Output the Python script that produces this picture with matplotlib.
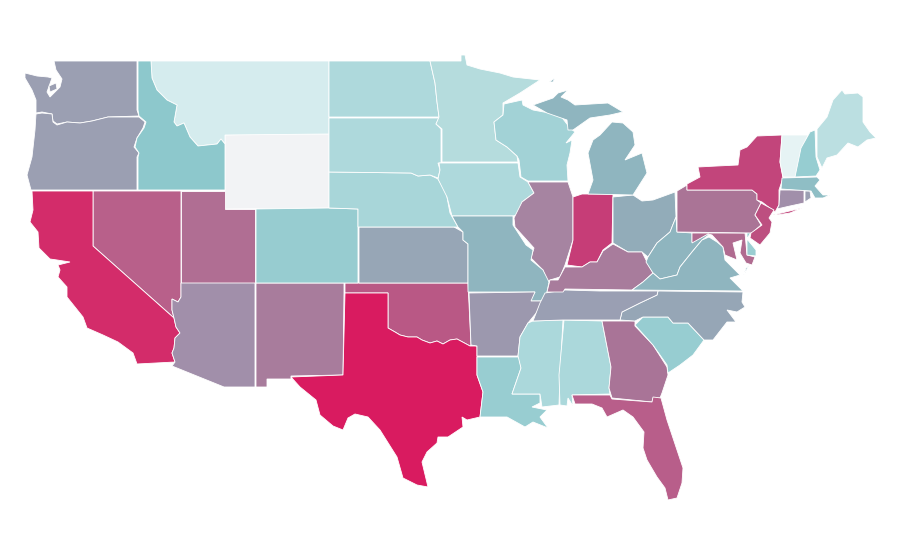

import matplotlib
matplotlib.use("Agg")
import matplotlib.pyplot as plt
from matplotlib.patches import Polygon

WA = [(54,61),(137,61),(137,110),(139,116),(108,117),(92,121),(80,123),(67,122),(57,124),(53,121),(52,114),(42,112),(36,113),(36,100),(32,90),(25,78),(25,73),(37,76),(48,77),(52,78),(47,92),(50,97),(60,87),(62,79),(56,70)]
WA_ISLAND = [(49,86),(56,83),(57,89),(50,92)]
OR = [(36,114),(42,113),(52,114),(53,122),(57,125),(67,122),(80,123),(92,121),(108,117),(139,117),(145,122),(143,128),(137,138),(134,147),(139,153),(137,157),(137,190),(31,190),(27,175),(32,157),(35,130)]
ID = [(138,61),(151,61),(152,78),(157,90),(167,100),(177,105),(174,122),(177,126),(184,123),(190,137),(198,146),(217,144),(221,139),(225,144),(225,190),(138,190),(138,157),(139,153),(135,147),(137,138),(144,128),(146,122),(139,116),(138,110)]
MT = [(151,61),(329,61),(329,134),(225,135),(225,144),(221,139),(217,144),(198,146),(190,137),(184,123),(177,126),(174,122),(177,105),(167,100),(157,90),(152,78)]
WY = [(225,135),(264,134),(329,134),(329,208),(225,209)]
NV = [(93,191),(181,191),(181,297),(178,302),(172,299),(172,310),(174,318),(93,246)]
CA = [(32,191),(93,191),(93,246),(174,318),(176,327),(180,333),(175,338),(174,348),(172,353),(175,362),(137,364),(133,353),(118,342),(103,335),(87,328),(83,317),(67,297),(67,287),(58,277),(60,270),(58,265),(70,262),(57,260),(50,259),(39,248),(38,232),(30,222),(33,210)]
UT = [(181,191),(225,191),(225,209),(255,209),(255,283),(181,283)]
AZ = [(181,283),(255,283),(255,387),(224,387),(172,366),(175,362),(172,353),(174,348),(175,338),(180,333),(176,327),(174,318),(172,310),(172,299),(178,302),(181,297)]
NM = [(256,283),(344,283),(344,293),(343,375),(291,376),(291,379),(267,379),(267,387),(256,387)]
TX = [(345,293),(388,293),(388,328),(395,332),(400,335),(408,337),(417,337),(422,340),(430,343),(437,341),(443,344),(450,340),(457,339),(470,346),(477,346),(477,375),(483,392),(480,417),(467,420),(462,417),(463,427),(448,437),(438,437),(437,443),(427,452),(422,462),(428,487),(417,485),(403,478),(397,457),(380,430),(368,417),(355,414),(348,418),(343,430),(333,426),(320,415),(316,400),(300,387),(291,377),(343,375)]
OK = [(345,283),(468,283),(471,345),(470,346),(457,339),(450,340),(443,344),(437,341),(430,343),(422,340),(417,337),(408,337),(400,335),(395,332),(388,328),(388,293),(345,293)]
KS = [(359,227),(454,227),(463,232),(463,240),(468,244),(468,283),(359,283)]
CO = [(256,209),(329,208),(358,209),(358,283),(256,283)]
NE = [(329,172),(411,173),(418,176),(430,175),(438,179),(446,192),(450,213),(458,227),(358,227),(358,209),(329,208)]
SD = [(329,118),(439,118),(436,124),(441,129),(441,163),(438,163),(440,170),(438,178),(430,175),(418,176),(411,173),(329,172)]
ND = [(329,61),(430,61),(435,83),(437,102),(439,117),(329,117)]
MN = [(430,61),(461,61),(461,55),(465,55),(467,65),(480,69),(500,73),(513,77),(540,80),(520,93),(503,103),(503,115),(494,122),(496,140),(507,147),(517,156),(518,162),(442,162),(442,129),(436,124),(439,117),(437,102),(435,83)]
WI = [(504,104),(522,100),(523,105),(533,110),(560,115),(570,128),(575,132),(566,143),(572,140),(570,153),(567,165),(568,181),(528,181),(521,177),(519,160),(517,156),(507,147),(496,140),(494,122),(503,115)]
IA = [(439,163),(518,163),(520,177),(528,182),(534,193),(522,202),(522,213),(513,216),(452,216),(447,197),(438,179),(440,170)]
IL = [(528,182),(568,182),(573,197),(573,240),(565,265),(560,277),(550,280),(547,282),(543,270),(531,258),(534,248),(515,227),(514,218),(522,202),(534,193)]
IN = [(573,197),(582,194),(613,194),(612,243),(603,250),(597,262),(590,262),(582,267),(567,265),(573,240)]
OH = [(613,197),(633,195),(642,201),(653,200),(675,192),(676,217),(670,232),(657,243),(648,257),(642,252),(628,252),(613,243)]
MI_LOWER = [(588,194),(593,180),(588,153),(593,140),(600,135),(612,122),(623,123),(633,132),(635,145),(625,160),(642,153),(647,173),(633,195)]
MI_UPPER = [(533,105),(553,98),(558,93),(568,90),(561,97),(568,100),(575,105),(608,103),(623,112),(610,115),(590,118),(573,130),(568,130),(567,120),(547,113)]
MI_ISLE = [(549,82),(555,78),(553,82)]
MO = [(452,216),(513,216),(513,225),(526,245),(533,250),(531,260),(543,270),(549,282),(547,292),(542,301),(530,301),(535,292),(468,292),(468,244),(463,240),(463,232),(458,227)]
AR = [(469,293),(535,292),(531,301),(542,301),(537,312),(528,323),(520,337),(518,356),(477,356),(477,346),(471,345)]
LA = [(477,357),(519,357),(521,368),(512,394),(540,394),(540,403),(532,407),(547,410),(540,417),(548,428),(533,422),(525,427),(507,417),(487,417),(480,417),(483,392),(477,375)]
MS = [(533,321),(563,320),(560,375),(559,405),(542,407),(540,394),(512,394),(521,368),(518,356),(520,337),(528,323)]
AL = [(564,320),(602,321),(611,367),(609,388),(610,394),(572,395),(573,406),(568,398),(567,406),(560,405),(559,375)]
GA = [(602,321),(635,321),(635,326),(653,345),(667,367),(668,375),(662,393),(660,398),(653,398),(652,402),(612,398),(609,388),(611,367)]
FL = [(572,395),(610,395),(612,399),(652,402),(653,397),(661,398),(667,420),(677,450),(683,468),(682,483),(677,498),(668,500),(665,488),(657,477),(647,460),(643,448),(644,432),(633,417),(623,410),(607,417),(602,408),(592,404),(575,404)]
SC = [(635,325),(643,317),(668,317),(673,323),(688,323),(704,340),(693,355),(680,365),(668,373),(667,365),(653,345)]
NC = [(658,291),(743,292),(742,302),(745,307),(737,312),(727,310),(736,322),(727,322),(713,340),(704,340),(688,323),(673,323),(668,317),(643,317),(635,321),(620,320),(622,312),(640,303),(657,295)]
TN = [(545,293),(565,290),(600,291),(630,291),(658,291),(657,295),(640,303),(622,312),(620,320),(563,320),(533,321),(540,303)]
KY = [(547,292),(550,280),(558,280),(565,267),(582,267),(590,262),(597,262),(603,251),(613,244),(628,252),(642,252),(647,262),(653,273),(643,282),(632,290),(565,289),(563,292)]
WV = [(676,217),(677,232),(692,233),(692,242),(707,234),(710,234),(702,240),(692,252),(680,267),(677,275),(660,279),(653,273),(646,262),(648,257),(657,243),(670,232)]
VA = [(632,290),(643,282),(653,273),(660,279),(677,275),(680,267),(692,252),(702,240),(709,237),(717,242),(723,247),(725,260),(740,275),(730,278),(743,291)]
VA_SHORE = [(749,265),(744,275),(743,277),(746,268)]
MD = [(692,233),(745,233),(747,255),(755,257),(752,265),(746,263),(740,253),(742,240),(733,243),(737,260),(725,255),(723,247),(712,235),(708,234),(692,243)]
DE = [(747,232),(751,232),(747,239),(756,250),(756,256),(747,255)]
PA = [(677,191),(687,185),(687,190),(752,190),(757,194),(757,200),(761,203),(755,215),(761,225),(752,233),(677,232)]
NY = [(687,190),(687,184),(700,177),(698,167),(717,166),(738,165),(740,150),(747,147),(757,136),(782,135),(780,162),(783,178),(779,190),(779,205),(775,212),(762,202),(757,200),(757,194),(752,190)]
NY_LONG_ISLAND = [(773,215),(802,208),(790,213),(777,215)]
NJ = [(761,203),(774,210),(769,218),(772,222),(770,233),(760,245),(750,238),(751,233),(762,225),(755,215)]
CT = [(780,190),(804,190),(804,203),(790,206),(777,209),(779,205)]
RI = [(805,191),(810,191),(811,198),(805,202)]
MA = [(782,178),(817,177),(820,180),(815,186),(823,195),(830,195),(823,198),(815,198),(811,191),(781,189)]
VT = [(782,135),(808,135),(802,148),(795,177),(783,177),(780,162)]
NH = [(810,132),(815,130),(816,157),(820,170),(816,176),(795,177),(801,148)]
ME = [(817,129),(827,117),(833,100),(842,90),(845,94),(858,93),(863,97),(863,122),(870,132),(876,138),(867,140),(858,147),(848,143),(837,155),(827,158),(822,168),(817,157)]

STATE_SHAPES = [
    (WY, "#F2F3F5"), (MT, "#D5ECEE"), (WA, "#9B9FB2"), (WA_ISLAND, "#9B9FB2"), (OR, "#9B9FB2"), (ID, "#8DC8CC"),
    (NV, "#B8608A"), (CA, "#D32C6A"), (UT, "#B06E93"), (AZ, "#A18FAA"), (NM, "#A87C9C"),
    (OK, "#B95885"), (TX, "#D91B60"), (KS, "#97A6B6"), (CO, "#97CCD0"), (NE, "#A8D6D9"),
    (SD, "#AED9DC"), (ND, "#AED9DC"), (MN, "#B5DCDD"), (WI, "#A2D2D6"), (IA, "#AED9DC"),
    (IL, "#A684A1"), (IN, "#C63D77"), (OH, "#92ACB9"), (MI_LOWER, "#8FB5BF"), (MI_UPPER, "#8FB5BF"),
    (MI_ISLE, "#8FB5BF"), (MO, "#8FB5BF"), (AR, "#9C98AE"), (LA, "#98CDD1"), (MS, "#ABD8DB"),
    (AL, "#ABD8DB"), (GA, "#A97497"), (FL, "#B85E8A"), (SC, "#97CDD1"), (NC, "#96A6B6"),
    (TN, "#9A9FB3"), (KY, "#A87C9C"), (WV, "#8FB5BF"), (VA, "#8FB5BF"), (VA_SHORE, "#8FB5BF"),
    (MD, "#B06B90"), (DE, "#9ACDD1"), (PA, "#AA7496"), (NY, "#C2457B"), (NY_LONG_ISLAND, "#C2457B"),
    (NJ, "#BD4F80"), (CT, "#A18FAA"), (RI, "#9BA0B3"), (MA, "#8FBEC5"), (VT, "#E6F3F4"),
    (NH, "#96CDD1"), (ME, "#BBDFE1"),
]


def main() -> None:
    fig = plt.figure(figsize=(9, 5.6), dpi=100, facecolor="white")
    ax = fig.add_axes([0, 0, 1, 1])
    for outline, color in STATE_SHAPES:
        ax.add_patch(Polygon(outline, closed=True, facecolor=color, edgecolor="white", linewidth=0.6))
    ax.set_xlim(0, 900)
    ax.set_ylim(560, 0)
    ax.axis("off")
    fig.savefig("out.png", dpi=100, facecolor="white")
    plt.close(fig)


if __name__ == "__main__":
    main()
